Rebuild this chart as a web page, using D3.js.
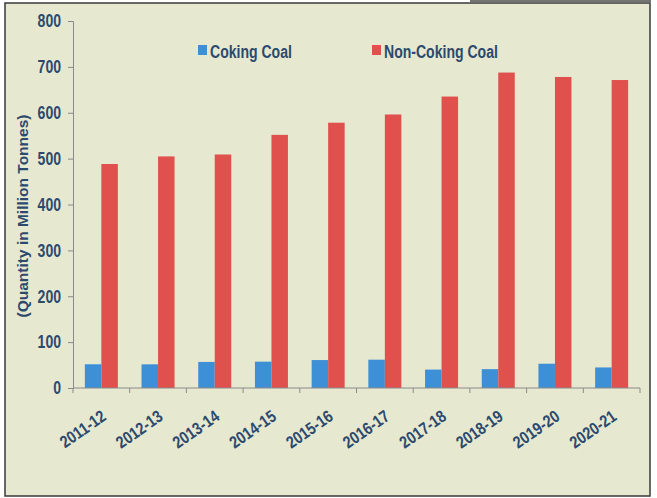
<!DOCTYPE html>
<html><head><meta charset="utf-8">
<script src="https://cdn.jsdelivr.net/npm/d3@7"></script>
<style>
body{margin:0;background:#fff;}
svg{display:block;}
text{font-family:"Liberation Sans",Arial,sans-serif;font-weight:bold;}
</style></head>
<body><svg id="c" width="657" height="498"></svg>
<script>
const categories = ["2011-12","2012-13","2013-14","2014-15","2015-16","2016-17","2017-18","2018-19","2019-20","2020-21"];
const cokingCoal = [51.7,51.6,56.8,57.4,60.9,61.7,40.1,41.1,52.9,44.8];
const nonCokingCoal = [488.3,504.8,509.0,551.8,578.3,596.2,635.3,687.6,678.0,671.3];
const seriesNames = ["Coking Coal","Non-Coking Coal"];
const yTicks = [0,100,200,300,400,500,600,700,800];

const colors = ["#3d8fd6","#e0504d"];
const textColor = "#2c4a6e";
const svg = d3.select("#c");

function narrow(sel, f){
  sel.each(function(){
    const L = this.getComputedTextLength();
    d3.select(this).attr("textLength", L*f).attr("lengthAdjust","spacingAndGlyphs");
  });
}

// background frame
svg.append("rect").attr("x",5).attr("y",3).attr("width",645).attr("height",493)
  .attr("fill","#e7e8d0").attr("stroke","#3a3a3a").attr("stroke-width",1.5);
svg.append("line").attr("x1",470).attr("x2",651).attr("y1",1).attr("y2",1).attr("stroke","#444").attr("stroke-width",1.5);

const m = {left:73, right:640, top:21, bottom:388};
const x = d3.scaleBand().domain(categories).range([m.left,m.right]).paddingInner(0).paddingOuter(0);
const y = d3.scaleLinear().domain([0,800]).range([m.bottom,m.top]);
const bw = 16.5;

const data = categories.map((c,i)=>({c, v:[cokingCoal[i], nonCokingCoal[i]]}));

const g = svg.append("g");
data.forEach(d=>{
  d.v.forEach((v,j)=>{
    const cx = x(d.c) + x.bandwidth()/2;
    g.append("rect")
      .attr("x", cx - bw + j*bw)
      .attr("y", y(v))
      .attr("width", bw)
      .attr("height", y(0)-y(v))
      .attr("fill", colors[j]);
  });
});

// y axis
const ya = svg.append("g").attr("transform",`translate(${m.left},0)`)
  .call(d3.axisLeft(y).tickValues(yTicks).tickSize(5).tickPadding(7));
ya.select(".domain").attr("stroke","#8a8a8a");
ya.selectAll(".tick line").attr("stroke","#8a8a8a");
ya.selectAll("text").attr("fill",textColor).attr("font-size",18)
  .style("font-family",'"Liberation Sans",Arial,sans-serif').style("font-weight","bold");
narrow(ya.selectAll("text"), 0.78);

// x axis
const xa = svg.append("g").attr("transform",`translate(0,${m.bottom})`);
xa.append("line").attr("x1",m.left).attr("x2",m.right).attr("stroke","#8a8a8a");
const bounds = categories.map(c=>x(c)).concat([m.right]);
xa.selectAll(".tk").data(bounds).enter().append("line")
  .attr("x1",d=>d).attr("x2",d=>d).attr("y1",0).attr("y2",5).attr("stroke","#8a8a8a");
const xl = xa.selectAll(".lbl").data(categories).enter().append("text")
  .attr("transform",d=>`translate(${x(d)+x.bandwidth()/2+6},${31}) rotate(-35)`)
  .attr("text-anchor","end")
  .attr("font-size",17)
  .attr("fill",textColor)
  .text(d=>d);
narrow(xl, 0.84);

// y title
svg.append("text")
  .attr("transform","translate(28,216) rotate(-90)")
  .attr("text-anchor","middle")
  .attr("font-size",15.5)
  .attr("fill",textColor)
  .text("(Quantity in Million Tonnes)");

// legend
const leg = [{x:198},{x:372}];
seriesNames.forEach((n,i)=>{
  svg.append("rect").attr("x",leg[i].x).attr("y",45).attr("width",9).attr("height",10).attr("fill",colors[i]);
  const t = svg.append("text").attr("x",leg[i].x+12).attr("y",58).attr("font-size",18).attr("fill",textColor).text(n);
  narrow(t, 0.78);
});
</script></body></html>
